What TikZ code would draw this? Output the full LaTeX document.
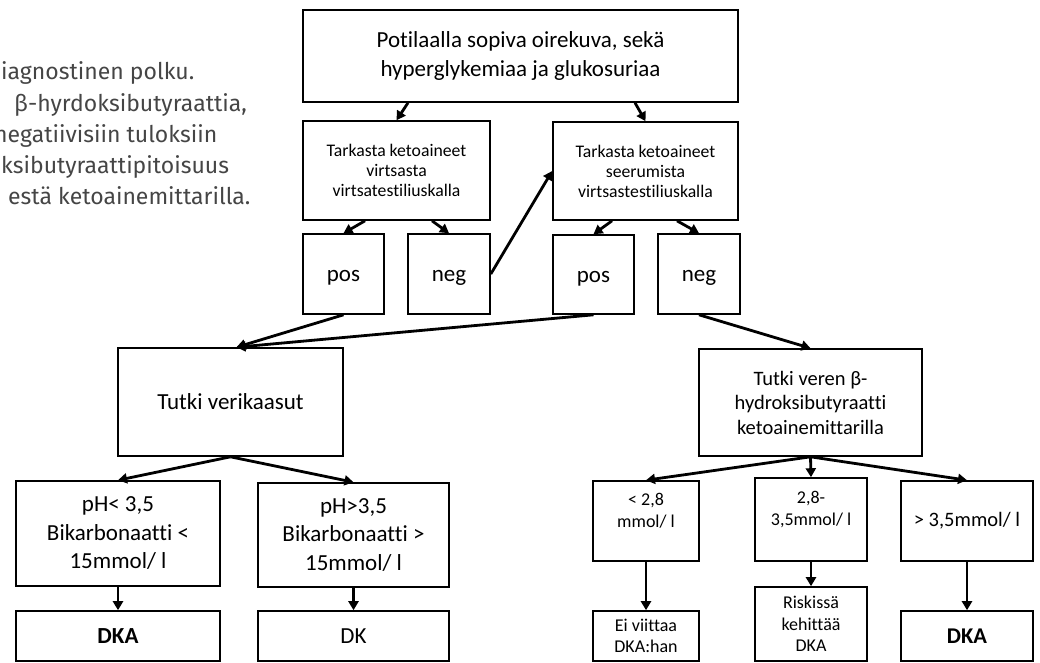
\documentclass[tikz,border=0pt]{standalone}
\usepackage{fontspec}
\setmainfont{Carlito}[Ligatures=CommonOff]
\newfontfamily\capfont{Fira Sans}[Ligatures=CommonOff]
\usepackage{tikz}
\usetikzlibrary{arrows.meta}

\definecolor{capgray}{HTML}{454545}

\begin{document}
\begin{tikzpicture}[x=1pt, y=-1pt,
	box/.style={draw, line width=1.6pt, inner sep=0pt, align=center},
	captext/.style={anchor=base west, inner sep=0pt, text=capgray, font=\capfont\fontsize{23}{31}\selectfont},
	bigfont/.style={font=\fontsize{23}{28.5}\selectfont},
	midfont/.style={font=\fontsize{20.5}{24.5}\selectfont},
	smallfont/.style={font=\fontsize{17.7}{20}\selectfont},
	tinyfont/.style={font=\fontsize{18}{21.7}\selectfont},
	posneg/.style={box, bigfont, text height=15pt, text depth=0pt},
	>={Triangle[length=9pt,width=10pt]}]
\useasboundingbox (0,0) rectangle (1040,662);
\clip (0,0) rectangle (1040,662);

% text cut off at the left
\node[captext] (cap1) at (1,79) {iagnostinen polku.};
\node[captext] (cap2) at (14,111) {β-hyrdoksibutyraattia,};
\node[captext] (cap3) at (-6,142) {negatiivisiin tuloksiin};
\node[captext] (cap4) at (1,173) {ksibutyraattipitoisuus};
\node[captext] (cap5) at (8,204) {estä ketoainemittarilla.};

% first tests
\node[box, bigfont, minimum width=435pt, minimum height=92pt] (top) at (520.5,56) {Potilaalla sopiva oirekuva, sekä\\hyperglykemiaa ja glukosuriaa};
\node[box, smallfont, minimum width=187pt, minimum height=99pt] (chk1) at (396.5,170.5) {Tarkasta ketoaineet\\virtsasta\\virtsatestiliuskalla};
\node[box, smallfont, minimum width=185pt, minimum height=98pt] (chk2) at (645.5,171) {Tarkasta ketoaineet\\seerumista\\virtsastestiliuskalla};
\node[posneg, minimum width=81pt, minimum height=80pt] (pos1) at (343.5,274) {pos};
\node[posneg, minimum width=82pt, minimum height=80pt] (neg1) at (449,274) {neg};
\node[posneg, minimum width=81pt, minimum height=79pt] (pos2) at (593.5,274.5) {pos};
\node[posneg, minimum width=82pt, minimum height=80pt] (neg2) at (699,274) {neg};

% blood gases
\node[box, bigfont, minimum width=225pt, minimum height=108pt] (gas) at (230.5,402) {Tutki verikaasut};
\node[box, bigfont, minimum width=204pt, minimum height=105pt] (ph1) at (118,533.5) {pH< 3,5\\Bikarbonaatti <\\15mmol/ l};
\node[box, bigfont, minimum width=191pt, minimum height=104pt] (ph2) at (353.5,535) {pH>3,5\\Bikarbonaatti >\\15mmol/ l};
\node[box, bigfont, minimum width=204pt, minimum height=50pt] (dka1) at (118,636) {\textbf{DKA}};
\node[box, bigfont, minimum width=191pt, minimum height=50pt] (dk) at (353.5,636) {DK};

% beta-hydroxybutyrate
\node[box, midfont, minimum width=223pt, minimum height=107pt] (bhb) at (810.5,402.5) {Tutki veren β-\\hydroksibutyraatti\\ketoainemittarilla};
\node[box, tinyfont, minimum width=106pt, minimum height=80pt] (lo) at (646,521) {< 2,8\\mmol/ l\\\mbox{}};
\node[box, tinyfont, minimum width=112pt, minimum height=83pt] (md) at (811,519.5) {2,8-\\3,5mmol/ l\\\mbox{}};
\node[box, midfont, minimum width=132pt, minimum height=80pt] (hi) at (967,521) {> 3,5mmol/ l};
\node[box, tinyfont, minimum width=106pt, minimum height=50pt] (ei) at (646,636) {Ei viittaa\\DKA:han};
\node[box, tinyfont, minimum width=112pt, minimum height=74pt] (risk) at (811,624) {Riskissä\\kehittää\\DKA};
\node[box, font=\fontsize{22.5}{27}\selectfont, minimum width=132pt, minimum height=50pt] (dka2) at (967,636) {\textbf{DKA}};

\path[->, line width=2.8pt]
([xshift=-112.5pt]top.south) edge (chk1.north)
([xshift=114.5pt]top.south) edge (chk2.north)
([xshift=-31.5pt]chk1.south) edge (pos1.north)
([xshift=35.5pt]chk1.south) edge (neg1.north)
([xshift=-33.5pt]chk2.south) edge (pos2.north)
([xshift=31.5pt]chk2.south) edge (neg2.north)
(neg1.east) edge (chk2.west)
(pos1.south) edge ([xshift=6pt]gas.north)
(pos2.south) edge ([xshift=6pt]gas.north)
(neg2.south) edge (bhb.north)
(gas.south) edge (ph1.north)
(gas.south) edge (ph2.north)
(ph1.south) edge (dka1.north)
(ph2.south) edge (dk.north)
(bhb.south) edge (lo.north)
(bhb.south) edge (md.north)
(bhb.south) edge (hi.north)
(lo.south) edge (ei.north)
(md.south) edge (risk.north)
(hi.south) edge (dka2.north)
;
\end{tikzpicture}
\end{document}
